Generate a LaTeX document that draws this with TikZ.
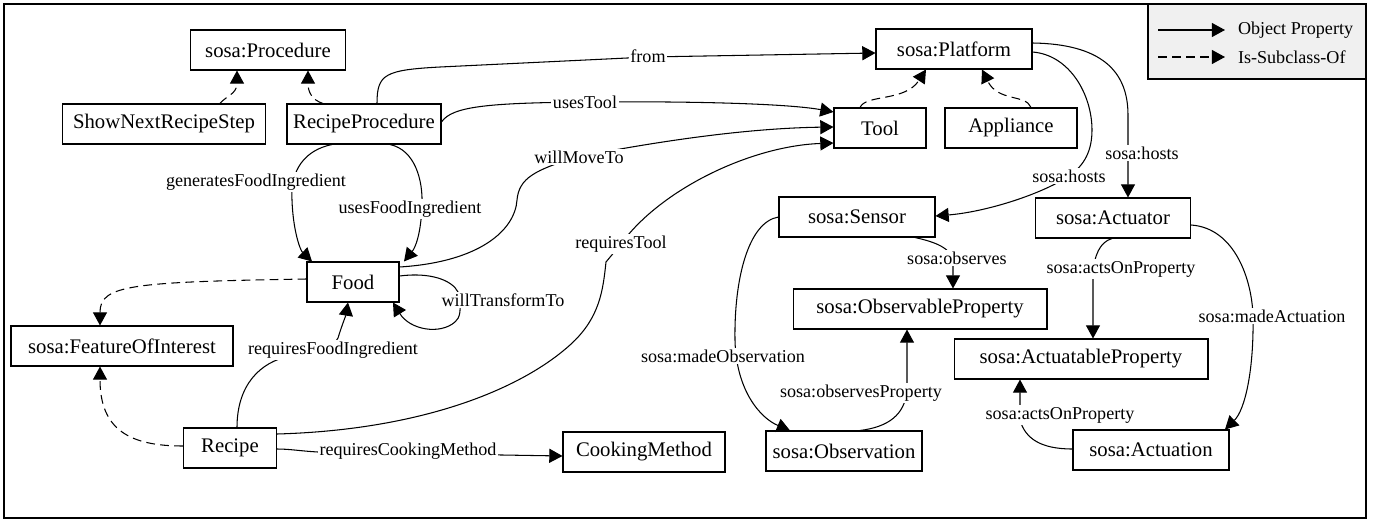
\documentclass[tikz,border=0pt]{standalone}
\usepackage{fontspec}
\setmainfont{Liberation Serif}
\usetikzlibrary{arrows.meta}

\begin{document}
\begin{tikzpicture}[x=0.02cm,y=-0.02cm,>={Triangle[length=7.5pt,width=8pt]},line width=0.6pt,
    cls/.style={draw,line width=0.6pt,minimum width=#1,minimum height=0.8cm,inner sep=2pt,font=\fontsize{11.8}{14}\selectfont},
    objprop/.style={->},
    subcl/.style={->,dash pattern=on 5pt off 3pt},
    lbl/.style={fill=white,inner sep=1pt,font=\fontsize{10.3}{12}\selectfont}]
    \useasboundingbox (0,0) rectangle (1374,521);
    \draw[line width=1.5pt] (4,4) rectangle (1366,518);

    \node[cls=3.1cm] (proc) at (268,50) {sosa:Procedure};
    \node[cls=4.06cm] (snrs) at (164,124) {ShowNextRecipeStep};
    \node[cls=3.08cm] (rp) at (364,124) {RecipeProcedure};
    \node[cls=3.12cm] (plat) at (954,49) {sosa:Platform};
    \node[cls=1.84cm] (tool) at (880,128) {Tool};
    \node[cls=2.64cm] (appl) at (1011,128) {Appliance};
    \node[cls=3.12cm] (sensor) at (857,217) {sosa:Sensor};
    \node[cls=3.1cm] (actuator) at (1113,218) {sosa:Actuator};
    \node[cls=1.84cm] (food) at (353,282) {Food};
    \node[cls=4.44cm] (foi) at (122,346) {sosa:FeatureOfInterest};
    \node[cls=1.86cm] (recipe) at (230,448) {Recipe};
    \node[cls=3.24cm] (cook) at (644,452) {CookingMethod};
    \node[cls=5.08cm] (obsprop) at (920,309) {sosa:ObservableProperty};
    \node[cls=3.12cm] (obs) at (844,451) {sosa:Observation};
    \node[cls=5.08cm] (actprop) at (1081,359) {sosa:ActuatableProperty};
    \node[cls=3.12cm] (actuation) at (1151,450) {sosa:Actuation};

    \draw[subcl] (snrs.north -| 220,0) .. controls (226,96) and (237,94) .. (proc.south -| 237,0);
    \draw[subcl] (rp.north -| 323,0) .. controls (312,100) and (308,92) .. (proc.south -| 308,0);
    \draw[subcl] (tool.north -| 860,0) .. controls (866,94) and (905,102) .. (plat.south -| 926,0);
    \draw[subcl] (appl.north -| 1031,0) .. controls (1026,94) and (998,102) .. (plat.south -| 982,0);
    \draw[subcl] (food.west |- 0,279) .. controls (130,282) and (100,285) .. (foi.north -| 100,0);
    \draw[subcl] (recipe.west |- 0,446) .. controls (130,446) and (100,430) .. (foi.south -| 100,0);

    \draw[objprop] (rp.north -| 377,0) .. controls (377,74) and (385,70) .. (440,67) -- (648,57) -- (plat.west |- 0,53);
    \draw[objprop] (rp.east |- 0,122) .. controls (452,106) and (490,103) .. (585,102) .. controls (700,101) and (790,104) .. (tool.west |- 0,112);
    \draw[objprop] (rp.south -| 332,0) .. controls (305,150) and (290,170) .. (292,200) .. controls (293,230) and (300,250) .. (food.north -| 312,0);
    \draw[objprop] (rp.south -| 390,0) .. controls (415,150) and (423,180) .. (422,205) .. controls (421,235) and (415,248) .. (food.north -| 404,0);
    \draw[objprop] (food.east |- 0,267) .. controls (480,262) and (515,230) .. (517,200) .. controls (519,178) and (535,170) .. (577,157) .. controls (680,137) and (760,128) .. (tool.west |- 0,127);
    \draw[objprop] (recipe.east |- 0,434) .. controls (420,430) and (520,390) .. (570,345) .. controls (600,318) and (603,290) .. (606,262) -- (621,244) .. controls (660,190) and (750,146) .. (tool.west |- 0,143);
    \draw[objprop] (food.east |- 0,276) .. controls (430,272) and (452,280) .. (458,292) .. controls (462,310) and (460,318) .. (455,322) .. controls (440,335) and (410,330) .. (food.south -| 393,0);
    \draw[objprop] (recipe.north -| 237,0) .. controls (237,385) and (260,362) .. (290,356) .. controls (320,350) and (335,345) .. (338,338) .. controls (342,325) and (346,315) .. (food.south -| 348,0);
    \draw[objprop] (recipe.east |- 0,449) .. controls (290,449) and (300,451) .. (318,452) -- (502,455) -- (cook.west |- 0,456);
    \draw[objprop] (plat.east |- 0,52) .. controls (1070,55) and (1092,95) .. (1092,130) .. controls (1092,150) and (1085,165) .. (1069,176) .. controls (1040,195) and (985,212) .. (sensor.east |- 0,216);
    \draw[objprop] (plat.east |- 0,43) .. controls (1100,44) and (1128,70) .. (1128,115) -- (actuator.north -| 1128,0);
    \draw[objprop] (sensor.south -| 915,0) .. controls (935,242) and (952,248) .. (953,262) -- (obsprop.north -| 953,0);
    \draw[objprop] (sensor.west |- 0,217) .. controls (748,222) and (734,280) .. (735,340) .. controls (736,390) and (760,418) .. (obs.north -| 790,0);
    \draw[objprop] (obs.north -| 860,0) .. controls (888,427) and (905,415) .. (907,390) -- (obsprop.south -| 907,0);
    \draw[objprop] (actuator.south -| 1112,0) .. controls (1100,242) and (1094,255) .. (1093,275) -- (actprop.north -| 1093,0);
    \draw[objprop] (actuator.east |- 0,225) .. controls (1235,228) and (1252,280) .. (1253,316) .. controls (1254,370) and (1245,410) .. (actuation.north -| 1225,0);
    \draw[objprop] (actuation.west |- 0,449) .. controls (1040,449) and (1025,438) .. (1020,420) -- (actprop.south -| 1020,0);

    \node[lbl] (lfrom) at (648,56) {from};
    \node[lbl] (lusestool) at (585,102) {usesTool};
    \node[lbl] (lgenfi) at (256,182) {generatesFoodIngredient};
    \node[lbl] (lusesfi) at (410,209) {usesFoodIngredient};
    \node[lbl] (lmove) at (579,157) {willMoveTo};
    \node[lbl] (lreqtool) at (621,244) {requiresTool};
    \node[lbl] (lwtt) at (503,300) {willTransformTo};
    \node[lbl] (lrfi) at (333,350) {requiresFoodIngredient};
    \node[lbl] (lrcm) at (408,451) {requiresCookingMethod};
    \node[lbl] (lhosts1) at (1069,176) {sosa:hosts};
    \node[lbl] (lhosts2) at (1142,153) {sosa:hosts};
    \node[lbl] (lobserves) at (957,258) {sosa:observes};
    \node[lbl] (lmadeobs) at (723,356) {sosa:madeObservation};
    \node[lbl] (lobsprop) at (861,393) {sosa:observesProperty};
    \node[lbl] (lacts1) at (1121,269) {sosa:actsOnProperty};
    \node[lbl] (lmadeact) at (1272,316) {sosa:madeActuation};
    \node[lbl] (lacts2) at (1060,415) {sosa:actsOnProperty};

    \draw[line width=1.5pt,fill=gray!12] (1148,4) rectangle (1366,79);
    \node[anchor=west,inner xsep=0.25cm,font=\fontsize{10.3}{12}\selectfont] (lgop) at (1225,30) {Object Property};
    \node[anchor=west,inner xsep=0.25cm,font=\fontsize{10.3}{12}\selectfont] (lgsub) at (1225,57) {Is-Subclass-Of};
    \coordinate (lgop0) at (1158,30);
    \coordinate (lgsub0) at (1158,57);
    \draw[objprop] (lgop0) -- (lgop.west);
    \draw[subcl] (lgsub0) -- (lgsub.west);
\end{tikzpicture}
\end{document}
